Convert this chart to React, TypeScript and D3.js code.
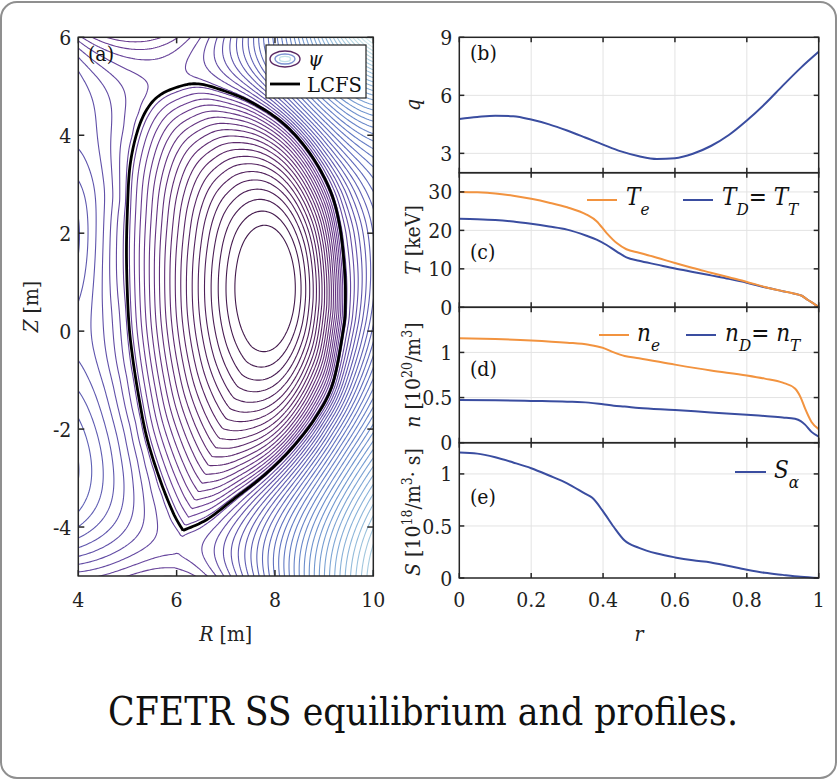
import React, { useMemo } from "react";
import * as d3 from "d3";

const FONT = "'DejaVu Serif Condensed', 'DejaVu Serif', serif";

// ===== Panel (a): equilibrium =====
const lcfsR = [6.13, 5.93, 5.66, 5.4, 5.24, 5.1, 5.02, 4.98, 5.0, 5.05, 5.19, 5.39, 5.66, 6.07, 6.41, 6.81, 7.49, 8.17, 8.71, 9.12, 9.32, 9.42, 9.43, 9.39, 9.18, 8.84, 8.37, 7.83, 7.15, 6.61, 6.13];
const lcfsZ = [-4.07, -3.71, -3.03, -2.2, -1.4, -0.5, 0.3, 1.5, 2.5, 3.36, 4.04, 4.52, 4.82, 5.0, 5.05, 4.96, 4.69, 4.24, 3.63, 2.88, 2.13, 1.2, 0.5, 0.03, -1.06, -1.74, -2.36, -2.9, -3.44, -3.85, -4.07];
const xPointRZ = [6.13, -4.07];
const axisRZ = [7.86, 0.9];
const innerRingRZ = [2.0, 4.25];
const lcfsCentreRZ = [7.2, 0.55];
// points outside the LCFS and the number of contour lines between them and the LCFS
const outR = [4.0, 4.0, 4.0, 4.0, 4.0, 4.0, 4.5, 5.3, 6.2, 6.9, 8.0, 10.0, 10.0, 10.0, 10.0, 10.0, 7.8, 6.4];
const outZ = [5.0, 3.5, 0.5, -2.0, -3.5, -5.0, 0.5, -5.0, -5.0, -5.0, -5.0, -5.0, -2.5, 0.5, 3.0, 6.0, 6.0, 6.0];
const outN = [5.5, 6, 6.5, 5, 3, 0.5, 3.5, -1.3, -0.4, 1, 6, 30, 24, 11, 17, 40, 16, 2.8];
// external (model) coil positions
const coilR = [2.0, 2.0, 2.0, 4.0, 8.5, 13.5, 14.0, 13.5, 9.5, 6.3];
const coilZ = [-4.0, 0.0, 4.0, 9.0, 9.0, 5.0, 0.0, -5.0, -8.5, -7.5];
const rTicksA = [4, 6, 8, 10];
const zTicksA = [-4, -2, 0, 2, 4, 6];

// ===== Profiles (b)-(e) =====
const rQ = [0, 0.05, 0.1, 0.15, 0.2, 0.25, 0.3, 0.35, 0.4, 0.45, 0.5, 0.55, 0.6, 0.65, 0.7, 0.75, 0.8, 0.85, 0.9, 0.95, 1.0];
const qVals = [4.78, 4.88, 4.95, 4.92, 4.75, 4.5, 4.18, 3.82, 3.45, 3.1, 2.85, 2.71, 2.75, 2.98, 3.38, 3.95, 4.7, 5.55, 6.5, 7.42, 8.25];

const rT = [0, 0.05, 0.1, 0.15, 0.2, 0.25, 0.3, 0.354, 0.382, 0.41, 0.438, 0.465, 0.5, 0.55, 0.6, 0.65, 0.7, 0.75, 0.8, 0.85, 0.9, 0.93, 0.953, 0.97, 0.99, 1.0];
const teVals = [30.0, 29.9, 29.6, 29.0, 28.2, 27.2, 26.0, 24.1, 22.4, 19.3, 16.7, 15.1, 14.2, 12.9, 11.5, 10.2, 9.0, 7.8, 6.6, 5.3, 4.2, 3.6, 3.0, 1.9, 0.7, 0];
const tdVals = [23.0, 22.9, 22.7, 22.3, 21.7, 21.0, 20.2, 18.6, 17.6, 16.2, 14.5, 13.0, 12.1, 11.1, 10.1, 9.2, 8.3, 7.4, 6.4, 5.2, 4.2, 3.6, 3.0, 1.9, 0.7, 0];

const rN = [0, 0.1, 0.2, 0.3, 0.36, 0.4, 0.43, 0.46, 0.5, 0.6, 0.7, 0.8, 0.85, 0.9, 0.934, 0.95, 0.962, 0.98, 1.0];
const neVals = [1.156, 1.148, 1.133, 1.108, 1.085, 1.05, 1.0, 0.96, 0.935, 0.865, 0.8, 0.745, 0.71, 0.665, 0.6, 0.5, 0.38, 0.23, 0.15];
const ndVals = [0.474, 0.47, 0.463, 0.455, 0.444, 0.425, 0.41, 0.4, 0.385, 0.363, 0.335, 0.31, 0.295, 0.28, 0.265, 0.24, 0.2, 0.12, 0.067];

const rS = [0, 0.05, 0.1, 0.15, 0.2, 0.25, 0.3, 0.35, 0.37, 0.4, 0.43, 0.46, 0.5, 0.55, 0.6, 0.65, 0.7, 0.75, 0.8, 0.85, 0.9, 0.95, 1.0];
const sVals = [1.205, 1.195, 1.16, 1.11, 1.055, 0.985, 0.91, 0.81, 0.77, 0.64, 0.49, 0.36, 0.29, 0.235, 0.198, 0.17, 0.15, 0.115, 0.08, 0.05, 0.03, 0.012, 0];

const rTicks = [0, 0.2, 0.4, 0.6, 0.8, 1];

const ORANGE = "#F2933F";
const BLUE = "#3A4DA0";
const AXC = "#262626";

const A_L = 78.3, A_R = 373.3, A_T = 37.3, A_B = 576;
const P_L = 459.3, P_R = 818.7;

function solveLS(A: number[][], b: number[], lambda: number) {
  const n = A[0].length;
  const M = Array.from({ length: n }, () => new Array(n + 1).fill(0));
  for (let r = 0; r < A.length; r++) {
    const row = A[r];
    for (let i = 0; i < n; i++) {
      for (let j = 0; j < n; j++) M[i][j] += row[i] * row[j];
      M[i][n] += row[i] * b[r];
    }
  }
  for (let i = 0; i < n; i++) M[i][i] += lambda;
  for (let c = 0; c < n; c++) {
    let p = c;
    for (let r = c + 1; r < n; r++) if (Math.abs(M[r][c]) > Math.abs(M[p][c])) p = r;
    [M[c], M[p]] = [M[p], M[c]];
    for (let r = 0; r < n; r++) {
      if (r === c) continue;
      const f = M[r][c] / M[c][c];
      for (let j = c; j <= n; j++) M[r][j] -= f * M[c][j];
    }
  }
  return M.map((row, i) => row[n] / row[i]);
}

function densify(R: number[], Z: number[], nSeg: number) {
  const n = R.length;
  const pts: [number, number][] = [];
  for (let i = 0; i < n - 1; i++) {
    const i0 = Math.max(i - 1, 0), i3 = Math.min(i + 2, n - 1);
    for (let k = 0; k < nSeg; k++) {
      const t = k / nSeg, t2 = t * t, t3 = t2 * t;
      const f = (a: number, b: number, c: number, d: number) =>
        0.5 * (2 * b + (-a + c) * t + (2 * a - 5 * b + 4 * c - d) * t2 + (-a + 3 * b - 3 * c + d) * t3);
      pts.push([f(R[i0], R[i], R[i + 1], R[i3]), f(Z[i0], Z[i], Z[i + 1], Z[i3])]);
    }
  }
  pts.push([R[n - 1], Z[n - 1]]);
  return pts;
}

function computeField() {
  const poly = densify(lcfsR, lcfsZ, 10);
  const [aR, aZ] = axisRZ;
  const [cR, cZ] = lcfsCentreRZ;
  const [eA, eB] = innerRingRZ;
  const NT = 1440;
  const btab = new Float64Array(NT + 1);
  for (let it = 0; it <= NT; it++) {
    const th = -Math.PI + (2 * Math.PI * it) / NT;
    const c = Math.cos(th), s = Math.sin(th);
    let best = Infinity;
    for (let i = 0; i < poly.length - 1; i++) {
      const [x1, y1] = poly[i], [x2, y2] = poly[i + 1];
      const ex = x2 - x1, ey = y2 - y1;
      const den = c * ey - s * ex;
      if (Math.abs(den) < 1e-14) continue;
      const dx = x1 - cR, dy = y1 - cZ;
      const t = (dx * ey - dy * ex) / den;
      const u = (dx * s - dy * c) / den;
      if (t > 0 && u >= -1e-9 && u <= 1 + 1e-9) best = Math.min(best, t);
    }
    btab[it] = best;
  }
  const tabAt = (tab: Float64Array, th: number) => {
    const f = ((th + Math.PI) / (2 * Math.PI)) * NT;
    const i = Math.max(0, Math.min(NT - 1, Math.floor(f)));
    const w = f - i;
    return tab[i] * (1 - w) + tab[i + 1] * w;
  };
  const eAt = (th: number) => {
    const c = Math.cos(th), s = Math.sin(th);
    return 1 / Math.sqrt((c * c) / (eA * eA) + (s * s) / (eB * eB));
  };
  const fGap = (rho: number, R: number, Z: number) => {
    const rr = Math.min(rho, 1);
    const g = rr * rr, s = rr * rr;
    const cx = aR + (cR - aR) * g, cy = aZ + (cZ - aZ) * g;
    const dx = R - cx, dy = Z - cy;
    const th = Math.atan2(dy, dx);
    return Math.hypot(dx, dy) - rho * ((1 - s) * eAt(th) + s * tabAt(btab, th));
  };
  const rhoOf = (R: number, Z: number) => {
    let lo = 0, hi = 4;
    for (let it = 0; it < 34; it++) {
      const m = 0.5 * (lo + hi);
      if (fGap(m, R, Z) > 0) lo = m; else hi = m;
    }
    return 0.5 * (lo + hi);
  };
  const hf = 0.15;
  const gR0 = 4.7, gZ0 = -4.4;
  const gnx = Math.round((9.75 - gR0) / hf) + 1, gny = Math.round((5.4 - gZ0) / hf) + 1;
  const rg = new Float64Array(gnx * gny);
  for (let j = 0; j < gny; j++) for (let i = 0; i < gnx; i++) rg[j * gnx + i] = rhoOf(gR0 + i * hf, gZ0 + j * hf);
  const fR: number[] = [], fZ: number[] = [], fQ: number[] = [];
  for (let j = 1; j < gny - 1; j++) {
    for (let i = 1; i < gnx - 1; i++) {
      const rho = rg[j * gnx + i];
      if (rho >= 1) continue;
      const p = (ii: number, jj: number) => { const r = rg[jj * gnx + ii]; return r * r; };
      const lap = (p(i + 1, j) + p(i - 1, j) + p(i, j + 1) + p(i, j - 1) - 4 * p(i, j)) / (hf * hf);
      fR.push(gR0 + i * hf); fZ.push(gZ0 + j * hf); fQ.push((lap * hf * hf) / (2 * Math.PI));
    }
  }
  const nf = fQ.length;
  const FR = Float64Array.from(fR), FZ = Float64Array.from(fZ), FQ = Float64Array.from(fQ);
  const eps2 = (0.8 * hf) ** 2;
  const psiP = (R: number, Z: number) => {
    let s = 0;
    for (let j = 0; j < nf; j++) {
      const dr = R - FR[j], dz = Z - FZ[j];
      s += FQ[j] * Math.log(dr * dr + dz * dz + eps2);
    }
    return 0.5 * s;
  };
  const gradP = (R: number, Z: number) => {
    let gr = 0, gz = 0;
    for (let j = 0; j < nf; j++) {
      const dr = R - FR[j], dz = Z - FZ[j];
      const d2 = dr * dr + dz * dz + eps2;
      gr += (FQ[j] * dr) / d2; gz += (FQ[j] * dz) / d2;
    }
    return [gr, gz];
  };
  const nc = coilR.length, nu = nc + 7;
  const S = 5;
  const bVal = (k: number, R: number, Z: number) => {
    if (k < nc) return 0.5 * Math.log((R - coilR[k]) ** 2 + (Z - coilZ[k]) ** 2);
    const x = (R - 7.2) / S, y = (Z - 0.5) / S;
    switch (k - nc) {
      case 0: return x;
      case 1: return y;
      case 2: return x * x - y * y;
      case 3: return 2 * x * y;
      case 4: return x * x * x - 3 * x * y * y;
      case 5: return 3 * x * x * y - y * y * y;
      default: return x * x;
    }
  };
  const bGrad = (k: number, R: number, Z: number) => {
    if (k < nc) {
      const dr = R - coilR[k], dz = Z - coilZ[k], d2 = dr * dr + dz * dz;
      return [dr / d2, dz / d2];
    }
    const x = (R - 7.2) / S, y = (Z - 0.5) / S;
    switch (k - nc) {
      case 0: return [1 / S, 0];
      case 1: return [0, 1 / S];
      case 2: return [(2 * x) / S, (-2 * y) / S];
      case 3: return [(2 * y) / S, (2 * x) / S];
      case 4: return [(3 * x * x - 3 * y * y) / S, (-6 * x * y) / S];
      case 5: return [(6 * x * y) / S, (3 * x * x - 3 * y * y) / S];
      default: return [(2 * x) / S, 0];
    }
  };
  const A: number[][] = [], b: number[] = [];
  const [xR, xZ] = xPointRZ;
  const pX = psiP(xR, xZ);
  for (let i = 3; i < poly.length - 3; i += 4) {
    const [r, z] = poly[i];
    A.push(Array.from({ length: nu }, (_, k) => bVal(k, r, z) - bVal(k, xR, xZ)));
    b.push(-(psiP(r, z) - pX));
  }
  const D0 = 1 / 20.5;
  const wO = 1.2;
  for (let i = 0; i < outR.length; i++) {
    const r = outR[i], z = outZ[i];
    A.push(Array.from({ length: nu }, (_, k) => wO * (bVal(k, r, z) - bVal(k, xR, xZ))));
    b.push(wO * (outN[i] * D0 - (psiP(r, z) - pX)));
  }
  const g = gradP(xR, xZ);
  for (let c = 0; c < 2; c++) {
    A.push(Array.from({ length: nu }, (_, k) => 4 * bGrad(k, xR, xZ)[c]));
    b.push(-4 * g[c]);
  }
  const coef = solveLS(A, b, 1e-3);
  const psiFit = (R: number, Z: number) => {
    let v = psiP(R, Z);
    for (let k = 0; k < nu; k++) v += coef[k] * bVal(k, R, Z);
    return v;
  };
  const psiXfit = psiFit(xR, xZ);
  const C = psiXfit - 1;
  const rtab = new Float64Array(NT + 1);
  for (let it = 0; it <= NT; it++) {
    const th = -Math.PI + (2 * Math.PI * it) / NT;
    const bd = btab[it];
    rtab[it] = psiXfit - psiFit(cR + bd * Math.cos(th), cZ + bd * Math.sin(th));
  }

  const d = 0.04;
  const Rlo = 4 - 3 * d, Rhi = 10 + 3 * d, Zhi = 6 + 3 * d, Zlo = -5 - 3 * d;
  const nx = Math.round((Rhi - Rlo) / d) + 1;
  const ny = Math.round((Zhi - Zlo) / d) + 1;
  const values = new Float64Array(nx * ny);
  let pmax = -Infinity;
  for (let j = 0; j < ny; j++) {
    const Z = Zhi - j * d;
    for (let i = 0; i < nx; i++) {
      const R = Rlo + i * d;
      const rho = rhoOf(R, Z);
      let v: number;
      if (rho <= 1) {
        v = C + rho * rho;
      } else {
        const th = Math.atan2(Z - cZ, R - cR);
        v = psiFit(R, Z) + tabAt(rtab, th) * Math.exp(-(rho - 1) / 0.12);
      }
      values[j * nx + i] = v;
      if (R >= 4 && R <= 10 && Z >= -5 && Z <= 6 && v > pmax) pmax = v;
    }
  }
  const psiX = C + 1, psi0 = C;
  const delta = (psiX - psi0) / 20.5;
  const levels: number[] = [];
  for (let m = -40; m < 400; m++) {
    const L = psiX + (m + 0.4) * delta;
    if (L > psi0 + 1.2 * delta && L < pmax) levels.push(L);
  }
  const contours = d3.contours().size([nx, ny]).thresholds(levels)(Array.from(values));
  return { contours, levels, d, Rlo, Zhi, poly };
}

const cmap = d3
  .scaleLinear<string>()
  .domain([0, 0.15, 0.3, 0.42, 0.55, 0.68, 0.8, 0.9, 1])
  .range(["#431a4c", "#5b2768", "#6a3c93", "#5f55ad", "#5f72c0", "#6f95cf", "#8db6da", "#b4d6e2", "#d9eeee"])
  .interpolate(d3.interpolateRgb)
  .clamp(true);

const fmt = (v: number) => String(v);

export default function App() {
  const field = useMemo(() => computeField(), []);
  const xA = d3.scaleLinear().domain([4, 10]).range([A_L, A_R]);
  const yA = d3.scaleLinear().domain([-5, 6]).range([A_B, A_T]);
  const { contours, levels, d, Rlo, Zhi, poly } = field;
  const proj = d3.geoTransform({
    point(this: any, gx: number, gy: number) {
      this.stream.point(xA(Rlo + (gx - 0.5) * d), yA(Zhi - (gy - 0.5) * d));
    },
  });
  const gp = d3.geoPath(proj);
  const lmin = levels[0], lmax = levels[levels.length - 1];
  const lcfsLine = d3.line<[number, number]>().x((p) => xA(p[0])).y((p) => yA(p[1]));

  const xr = d3.scaleLinear().domain([0, 1]).range([P_L, P_R]);
  const panels = [
    { key: "b", y0: 37.3, y1: 172.7, dom: [2, 9], ticks: [3, 6, 9], label: "(b)", ly: 60 },
    { key: "c", y0: 172.7, y1: 307.3, dom: [0, 35], ticks: [0, 10, 20, 30], label: "(c)", ly: 259 },
    { key: "d", y0: 307.3, y1: 442.7, dom: [0, 1.5], ticks: [0, 0.5, 1], label: "(d)", ly: 376 },
    { key: "e", y0: 442.7, y1: 578, dom: [0, 1.3], ticks: [0, 0.5, 1], label: "(e)", ly: 504 },
  ];
  const scales: Record<string, d3.ScaleLinear<number, number>> = {};
  panels.forEach((p) => (scales[p.key] = d3.scaleLinear().domain(p.dom).range([p.y1, p.y0])));
  const mk = (rs: number[], vs: number[], ys: d3.ScaleLinear<number, number>) =>
    d3.line<number>().x((_, i) => xr(rs[i])).y((v) => ys(v)).curve(d3.curveMonotoneX)(vs) || "";

  const tickFs = 21;
  const lblFs = 21;

  return (
    <svg width={838} height={780} style={{ position: "absolute", left: 0, top: 0, background: "#fff", fontFamily: FONT }} fontFamily={FONT}>
      <rect x={1} y={2} width={835} height={776} rx={16} fill="#fff" stroke="#8f8f8f" strokeWidth={2} />
      <defs>
        <clipPath id="clipA">
          <rect x={A_L} y={A_T} width={A_R - A_L} height={A_B - A_T} />
        </clipPath>
      </defs>
      <g clipPath="url(#clipA)">
        {contours.map((c: any, i: number) => (
          <path key={i} d={gp(c as any) || ""} fill="none" stroke={cmap((levels[i] - lmin) / (lmax - lmin))} strokeWidth={1.1} />
        ))}
        <path d={lcfsLine(poly) || ""} fill="none" stroke="#000" strokeWidth={2.8} strokeLinejoin="miter" />
      </g>
      <rect x={A_L} y={A_T} width={A_R - A_L} height={A_B - A_T} fill="none" stroke={AXC} strokeWidth={1.5} />
      {rTicksA.map((t) => (
        <g key={"rt" + t}>
          <line x1={xA(t)} x2={xA(t)} y1={A_B} y2={A_B - 6} stroke={AXC} strokeWidth={1.5} />
          <line x1={xA(t)} x2={xA(t)} y1={A_T} y2={A_T + 6} stroke={AXC} strokeWidth={1.5} />
          <text x={xA(t)} y={607} fontSize={tickFs} textAnchor="middle" fill="#222">{t}</text>
        </g>
      ))}
      {zTicksA.map((t) => (
        <g key={"zt" + t}>
          <line x1={A_L} x2={A_L + 6} y1={yA(t)} y2={yA(t)} stroke={AXC} strokeWidth={1.5} />
          <line x1={A_R} x2={A_R - 6} y1={yA(t)} y2={yA(t)} stroke={AXC} strokeWidth={1.5} />
          <text x={A_L - 7} y={yA(t)} dy="0.36em" fontSize={tickFs} textAnchor="end" fill="#222">{t}</text>
        </g>
      ))}
      <text x={88} y={61} fontSize={lblFs} fill="#111">(a)</text>
      <text transform={`translate(38,${(A_T + A_B) / 2}) rotate(-90)`} fontSize={lblFs} textAnchor="middle" fill="#222">
        <tspan fontStyle="italic">Z</tspan> [m]
      </text>
      <text x={(A_L + A_R) / 2} y={641} fontSize={lblFs} textAnchor="middle" fill="#222">
        <tspan fontStyle="italic">R</tspan> [m]
      </text>
      <rect x={266} y={45} width={100} height={53} fill="#fff" stroke="#222" strokeWidth={1.2} />
      <ellipse cx={285} cy={59} rx={15} ry={8} fill="none" stroke="#5a2763" strokeWidth={1.4} />
      <ellipse cx={285} cy={59} rx={10} ry={5} fill="none" stroke="#7d93d2" strokeWidth={1.4} />
      <ellipse cx={285} cy={59} rx={5.5} ry={2.6} fill="none" stroke="#c2e3e8" strokeWidth={1.4} />
      <text x={308} y={66} fontSize={21} fontStyle="italic" fill="#111">ψ</text>
      <line x1={270} x2={300} y1={84} y2={84} stroke="#000" strokeWidth={2.8} />
      <text x={307} y={92} fontSize={20} fill="#111" textLength={55} lengthAdjust="spacingAndGlyphs">LCFS</text>

      {panels.map((p) => {
        const ys = scales[p.key];
        return (
          <g key={p.key}>
            {rTicks.slice(1, -1).map((t) => (
              <line key={"gx" + t} x1={xr(t)} x2={xr(t)} y1={p.y0} y2={p.y1} stroke="#e3e3e3" strokeWidth={1} />
            ))}
            {p.ticks.filter((t) => ys(t) > p.y0 + 1 && ys(t) < p.y1 - 1).map((t) => (
              <line key={"gy" + t} x1={P_L} x2={P_R} y1={ys(t)} y2={ys(t)} stroke="#e3e3e3" strokeWidth={1} />
            ))}
          </g>
        );
      })}
      <path d={mk(rQ, qVals, scales.b)} fill="none" stroke={BLUE} strokeWidth={2} />
      <path d={mk(rT, tdVals, scales.c)} fill="none" stroke={BLUE} strokeWidth={2} />
      <path d={mk(rT, teVals, scales.c)} fill="none" stroke={ORANGE} strokeWidth={2} />
      <path d={mk(rN, ndVals, scales.d)} fill="none" stroke={BLUE} strokeWidth={2} />
      <path d={mk(rN, neVals, scales.d)} fill="none" stroke={ORANGE} strokeWidth={2} />
      <path d={mk(rS, sVals, scales.e)} fill="none" stroke={BLUE} strokeWidth={2} />
      {panels.map((p) => {
        const ys = scales[p.key];
        return (
          <g key={"ax" + p.key}>
            <rect x={P_L} y={p.y0} width={P_R - P_L} height={p.y1 - p.y0} fill="none" stroke={AXC} strokeWidth={1.5} />
            {rTicks.map((t) => (
              <g key={"t" + t}>
                <line x1={xr(t)} x2={xr(t)} y1={p.y1} y2={p.y1 - 5} stroke={AXC} strokeWidth={1.5} />
                <line x1={xr(t)} x2={xr(t)} y1={p.y0} y2={p.y0 + 5} stroke={AXC} strokeWidth={1.5} />
              </g>
            ))}
            {p.ticks.map((t) => (
              <g key={"y" + t}>
                <line x1={P_L} x2={P_L + 5} y1={ys(t)} y2={ys(t)} stroke={AXC} strokeWidth={1.5} />
                <line x1={P_R} x2={P_R - 5} y1={ys(t)} y2={ys(t)} stroke={AXC} strokeWidth={1.5} />
                <text x={P_L - 7} y={ys(t)} dy="0.36em" fontSize={tickFs} textAnchor="end" fill="#222">{fmt(t)}</text>
              </g>
            ))}
            <text x={470} y={p.ly} fontSize={lblFs} fill="#111">{p.label}</text>
          </g>
        );
      })}
      {rTicks.map((t) => (
        <text key={"xl" + t} x={xr(t)} y={607} fontSize={tickFs} textAnchor="middle" fill="#222">{fmt(t)}</text>
      ))}
      <text x={(P_L + P_R) / 2} y={641} fontSize={lblFs} fontStyle="italic" textAnchor="middle" fill="#222">r</text>
      <text transform={`translate(420,105) rotate(-90)`} fontSize={lblFs} fontStyle="italic" textAnchor="middle" fill="#222">q</text>
      <text transform={`translate(420,240) rotate(-90)`} fontSize={lblFs} textAnchor="middle" fill="#222">
        <tspan fontStyle="italic">T</tspan> [keV]
      </text>
      <text transform={`translate(420,375) rotate(-90)`} fontSize={lblFs} textAnchor="middle" fill="#222">
        <tspan fontStyle="italic">n</tspan> [10<tspan dy={-8} fontSize={14}>20</tspan><tspan dy={8}>/m</tspan><tspan dy={-8} fontSize={14}>3</tspan><tspan dy={8}>]</tspan>
      </text>
      <text transform={`translate(420,512) rotate(-90)`} fontSize={lblFs} textAnchor="middle" fill="#222">
        <tspan fontStyle="italic">S</tspan> [10<tspan dy={-8} fontSize={14}>18</tspan><tspan dy={8}>/m</tspan><tspan dy={-8} fontSize={14}>3</tspan><tspan dy={8}>· s]</tspan>
      </text>
      <line x1={587} x2={617} y1={200} y2={200} stroke={ORANGE} strokeWidth={2} />
      <text x={626} y={205} fontSize={24} fontStyle="italic" fill="#111">T<tspan dy={10} fontSize={17}>e</tspan></text>
      <line x1={683} x2={713} y1={200} y2={200} stroke={BLUE} strokeWidth={2} />
      <text x={722} y={205} fontSize={24} fill="#111">
        <tspan fontStyle="italic">T</tspan><tspan dy={10} fontSize={17} fontStyle="italic">D</tspan><tspan dy={-10}>= </tspan><tspan fontStyle="italic">T</tspan><tspan dy={10} fontSize={17} fontStyle="italic">T</tspan>
      </text>
      <line x1={599} x2={629} y1={335} y2={335} stroke={ORANGE} strokeWidth={2} />
      <text x={637} y={341} fontSize={24} fontStyle="italic" fill="#111">n<tspan dy={10} fontSize={17}>e</tspan></text>
      <line x1={686} x2={716} y1={335} y2={335} stroke={BLUE} strokeWidth={2} />
      <text x={725} y={341} fontSize={24} fill="#111">
        <tspan fontStyle="italic">n</tspan><tspan dy={10} fontSize={17} fontStyle="italic">D</tspan><tspan dy={-10}>= </tspan><tspan fontStyle="italic">n</tspan><tspan dy={10} fontSize={17} fontStyle="italic">T</tspan>
      </text>
      <line x1={735} x2={766} y1={472} y2={472} stroke={BLUE} strokeWidth={2} />
      <text x={774} y={478} fontSize={24} fontStyle="italic" fill="#111">S<tspan dy={10} fontSize={17}>α</tspan></text>
      <text x={423} y={725} fontSize={40} textAnchor="middle" fill="#111" textLength={630} lengthAdjust="spacingAndGlyphs">CFETR SS equilibrium and profiles.</text>
    </svg>
  );
}
